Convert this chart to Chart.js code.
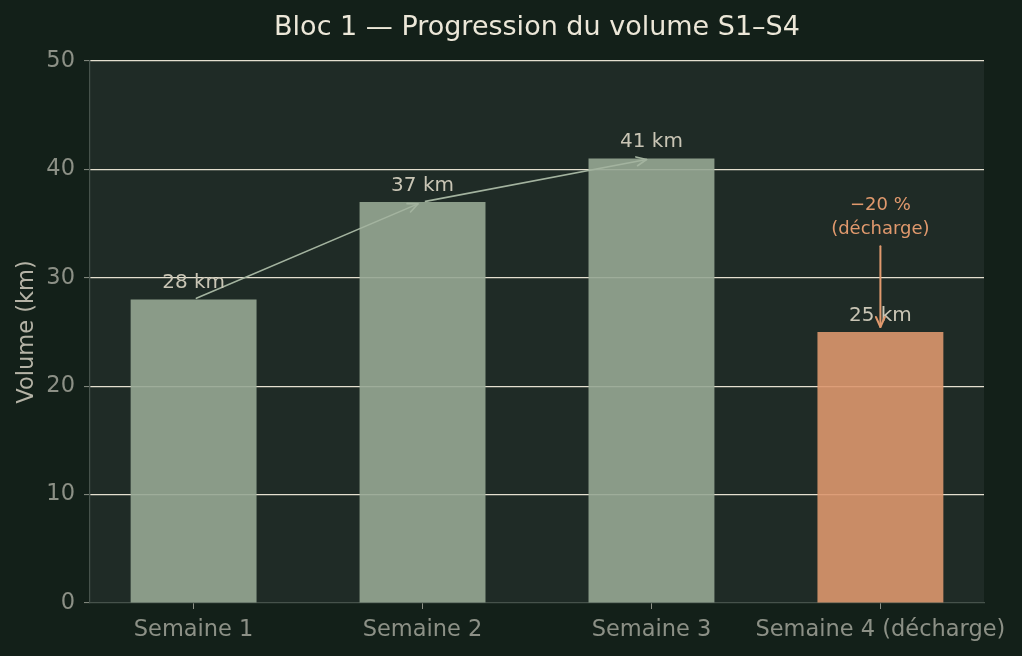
<!DOCTYPE html>
<html>
<head>
<meta charset="utf-8">
<script src="https://cdn.jsdelivr.net/npm/chart.js@4.4.1/dist/chart.umd.min.js"></script>
<style>
  html, body { margin: 0; padding: 0; background: #132019; }
  #wrap { width: 1022px; height: 656px; }
</style>
</head>
<body>
<div id="wrap"><canvas id="volumeChart" width="1022" height="656"></canvas></div>
<script>
'use strict';

// Data
const weekLabels = ['Semaine 1', 'Semaine 2', 'Semaine 3', 'Semaine 4 (décharge)'];
const weekPositions = [0, 1, 2, 3];
const volumeKm = [28, 37, 41, 25];
const yTicks = [0, 10, 20, 30, 40, 50];
const deloadIndex = 3;
const deloadNote = ['\u221220 %', '(décharge)'];
const deloadNoteFrom = 33;

// Color Variables
const pageBg = '#132019',
  plotBg = '#1f2b26',
  barColor = 'rgba(150,167,148,0.9)',
  deloadColor = 'rgba(220,151,110,0.9)',
  deloadText = '#e0996d',
  titleColor = '#ece7d8',
  tickLabelColor = '#8c9086',
  axisTitleColor = '#b5b3a6',
  valueLabelColor = '#c9c5b5',
  gridColor = '#e4dfcf',
  spineColor = '#46524b',
  arrowColor = '#a3b39f';

const fontFamily = '"DejaVu Sans", sans-serif';

// Backgrounds
const backgroundPlugin = {
  id: 'backgrounds',
  beforeDraw(chart) {
    const { ctx, chartArea } = chart;
    ctx.save();
    ctx.fillStyle = pageBg;
    ctx.fillRect(0, 0, chart.width, chart.height);
    ctx.fillStyle = plotBg;
    ctx.fillRect(chartArea.left, chartArea.top, chartArea.right - chartArea.left, chartArea.bottom - chartArea.top);
    ctx.restore();
  }
};

function drawArrow(ctx, x1, y1, x2, y2, shrinkA, shrinkB, color, width) {
  const dx = x2 - x1, dy = y2 - y1;
  const len = Math.sqrt(dx * dx + dy * dy);
  const ux = dx / len, uy = dy / len;
  const sx = x1 + ux * shrinkA, sy = y1 + uy * shrinkA;
  const ex = x2 - ux * shrinkB, ey = y2 - uy * shrinkB;
  const headLen = 10, headHalf = 4.5;
  ctx.save();
  ctx.strokeStyle = color;
  ctx.lineWidth = width;
  ctx.lineCap = 'round';
  ctx.lineJoin = 'round';
  ctx.beginPath();
  ctx.moveTo(sx, sy);
  ctx.lineTo(ex, ey);
  ctx.stroke();
  ctx.beginPath();
  ctx.moveTo(ex - ux * headLen - uy * headHalf, ey - uy * headLen + ux * headHalf);
  ctx.lineTo(ex, ey);
  ctx.lineTo(ex - ux * headLen + uy * headHalf, ey - uy * headLen - ux * headHalf);
  ctx.stroke();
  ctx.restore();
}

// Value labels, progression arrows and deload note
const annotationsPlugin = {
  id: 'annotations',
  afterDatasetsDraw(chart) {
    const { ctx } = chart;
    const xs = chart.scales.x, ys = chart.scales.y;

    for (let i = 0; i < volumeKm.length - 2; i++) {
      drawArrow(ctx,
        xs.getPixelForValue(weekPositions[i]), ys.getPixelForValue(volumeKm[i]),
        xs.getPixelForValue(weekPositions[i + 1]), ys.getPixelForValue(volumeKm[i + 1]),
        3, 5, arrowColor, 1.6);
    }

    ctx.save();
    ctx.font = '20px ' + fontFamily;
    ctx.fillStyle = valueLabelColor;
    ctx.textAlign = 'center';
    ctx.textBaseline = 'middle';
    volumeKm.forEach(function (v, i) {
      ctx.fillText(v + ' km', xs.getPixelForValue(weekPositions[i]), ys.getPixelForValue(v) - 16.5);
    });
    ctx.restore();

    const dx = xs.getPixelForValue(weekPositions[deloadIndex]);
    const fromY = ys.getPixelForValue(deloadNoteFrom);
    const toY = ys.getPixelForValue(volumeKm[deloadIndex]);
    drawArrow(ctx, dx, fromY, dx, toY, 1, 5, deloadText, 2);

    ctx.save();
    ctx.font = '18px ' + fontFamily;
    ctx.fillStyle = deloadText;
    ctx.textAlign = 'center';
    ctx.textBaseline = 'middle';
    ctx.fillText(deloadNote[0], dx, fromY - 40);
    ctx.fillText(deloadNote[1], dx, fromY - 16);
    ctx.restore();
  }
};

const ctxEl = document.getElementById('volumeChart');
new Chart(ctxEl, {
  type: 'bar',
  data: {
    datasets: [
      {
        data: weekPositions.map(function (x, i) { return { x: x, y: volumeKm[i] }; }),
        backgroundColor: volumeKm.map(function (v, i) { return i === deloadIndex ? deloadColor : barColor; }),
        borderWidth: 0,
        categoryPercentage: 1,
        barPercentage: 0.55
      }
    ]
  },
  options: {
    responsive: false,
    animation: false,
    devicePixelRatio: 1,
    layout: {
      padding: { left: 0, right: 38, top: 0, bottom: 0 }
    },
    plugins: {
      legend: { display: false },
      tooltip: { enabled: false },
      title: {
        display: true,
        fullSize: false,
        text: 'Bloc 1 \u2014 Progression du volume S1\u2013S4',
        color: titleColor,
        font: { family: fontFamily, size: 27, weight: 'normal', lineHeight: 1.2 },
        padding: { top: 12, bottom: 16.6 }
      }
    },
    scales: {
      x: {
        type: 'linear',
        min: -0.4525,
        max: 3.4525,
        offset: false,
        afterBuildTicks: function (scale) {
          scale.ticks = weekPositions.map(function (v) { return { value: v }; });
        },
        afterFit: function (scale) {
          scale.height = 53;
        },
        grid: {
          offset: false,
          drawOnChartArea: false,
          drawTicks: true,
          tickLength: 6,
          tickColor: tickLabelColor,
          tickWidth: 1
        },
        border: { display: true, color: spineColor, width: 1.2 },
        ticks: {
          autoSkip: false,
          maxRotation: 0,
          minRotation: 0,
          padding: 8,
          color: tickLabelColor,
          font: { family: fontFamily, size: 22.5 },
          callback: function (value) { return weekLabels[value]; }
        }
      },
      y: {
        min: 0,
        max: 50,
        afterBuildTicks: function (scale) {
          scale.ticks = yTicks.map(function (v) { return { value: v }; });
        },
        afterFit: function (scale) {
          scale.width = 90;
        },
        grid: {
          color: function (c) { return c.tick && c.tick.value === 0 ? 'rgba(0,0,0,0)' : gridColor; },
          lineWidth: 1.2,
          drawTicks: true,
          tickLength: 6,
          tickColor: tickLabelColor,
          tickWidth: 1
        },
        border: { display: true, color: spineColor, width: 1.2 },
        ticks: {
          padding: 9,
          color: tickLabelColor,
          font: { family: fontFamily, size: 22.5 }
        },
        title: {
          display: true,
          text: 'Volume (km)',
          color: axisTitleColor,
          font: { family: fontFamily, size: 22.5 },
          padding: { top: 13.5, bottom: 0 }
        }
      }
    }
  },
  plugins: [backgroundPlugin, annotationsPlugin]
});
</script>
</body>
</html>
